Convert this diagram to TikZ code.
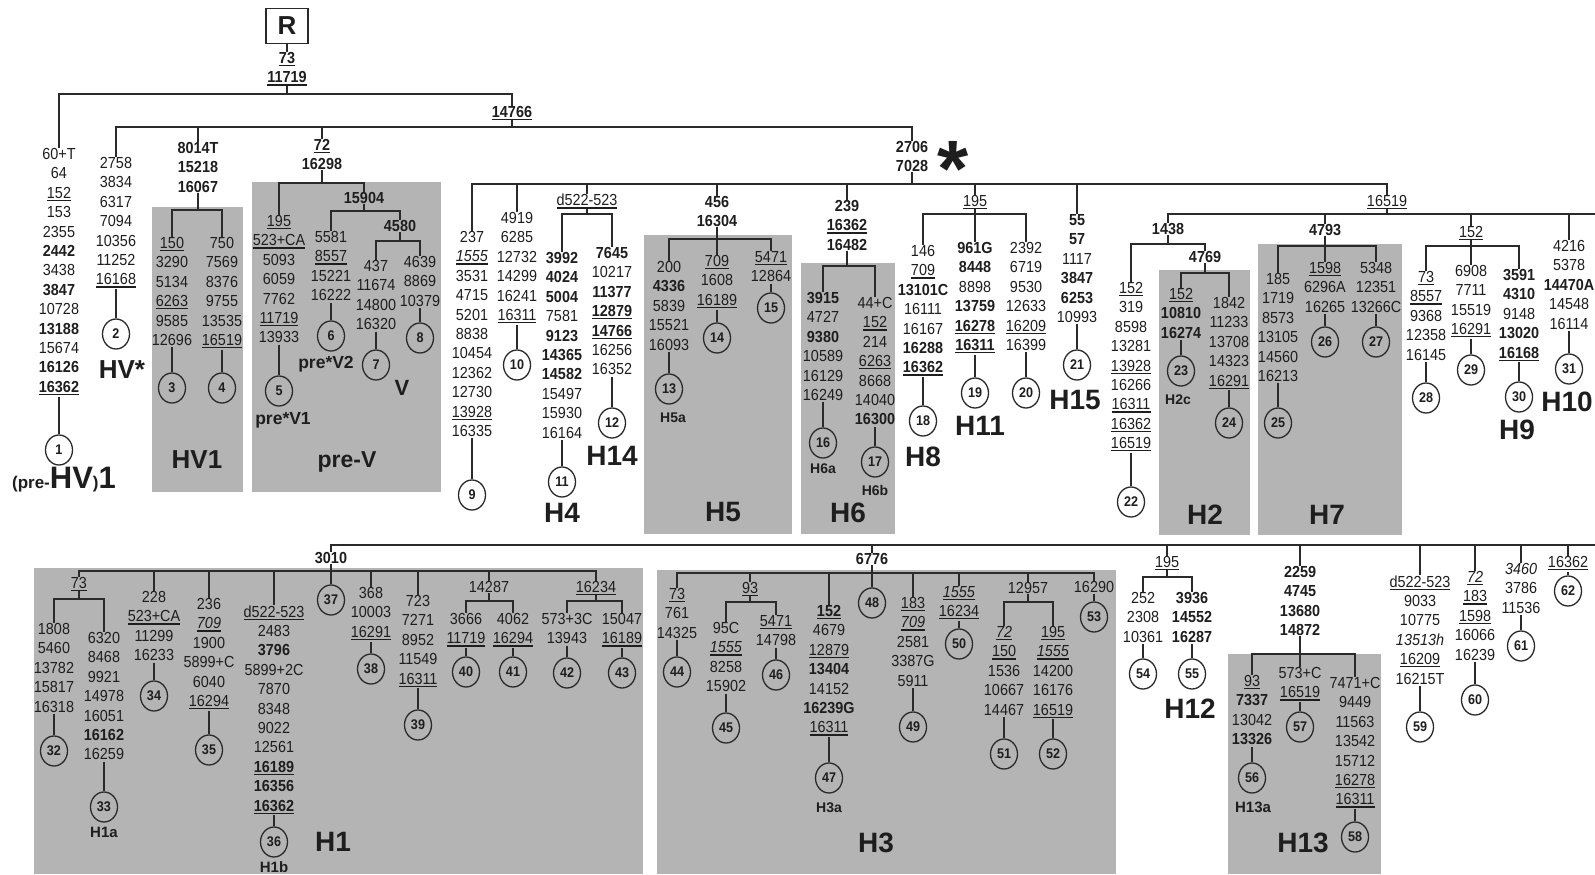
\documentclass[tikz,border=0pt]{standalone}
\usepackage{fontspec}
\setmainfont{Liberation Sans}[FakeStretch=0.9]
\newfontfamily\hfont{Liberation Sans}
\usetikzlibrary{shapes.geometric}
\definecolor{lc}{HTML}{2A2A2A}
\definecolor{tc}{HTML}{1E1E1E}
\definecolor{gbox}{HTML}{B4B4B4}
\newsavebox\ulsb
\newcommand\ulx[1]{\sbox\ulsb{#1}\rlap{\rule[-2.6bp]{\wd\ulsb}{1.1bp}}\usebox\ulsb}
\tikzset{
 num/.style={font=\fontsize{16bp}{19.4bp}\selectfont, text=tc, align=center, inner sep=0pt, anchor=north, yshift=5.8bp},
 lf/.style={ellipse, draw=lc, line width=1.3bp, minimum width=27bp, minimum height=30bp, inner sep=0pt, text=tc, font=\fontsize{14bp}{14bp}\selectfont\bfseries},
 hl/.style={font=\hfont\bfseries\fontsize{28bp}{28bp}\selectfont, text=tc, inner sep=0pt},
 sl/.style={font=\hfont\bfseries\fontsize{14bp}{14bp}\selectfont, text=tc, inner sep=0pt},
 br/.style={draw=lc, line width=1.7bp},
 gb/.style={fill=gbox, draw=none},
}
\begin{document}
\begin{tikzpicture}[x=1bp,y=-1bp]
\fill[white] (0,0) rectangle (1595,874);
\useasboundingbox (0,0) rectangle (1595,874);
% grey groups
\fill[gb] (152,207) rectangle (243,492);
\fill[gb] (252,182) rectangle (441,492);
\fill[gb] (644,235) rectangle (792,534);
\fill[gb] (801,263) rectangle (895,534);
\fill[gb] (1159,270) rectangle (1250,535);
\fill[gb] (1258,244) rectangle (1402,535);
\fill[gb] (34,568) rectangle (643,874);
\fill[gb] (657,570) rectangle (1116,874);
\fill[gb] (1228,654) rectangle (1381,874);

% root
\node[draw=lc, line width=1.3bp, minimum width=42bp, minimum height=35bp, inner sep=0pt, text=tc, font=\hfont\bfseries\fontsize{26bp}{26bp}\selectfont] (R) at (287,26) {R};
\node[num] (rl) at (287,58) {\textbf{\ulx{73}}\\\textbf{\ulx{11719}}};
\node[num] (l14766) at (512,112) {\textbf{\ulx{14766}}};

% left part
\node[num] (t1) at (59,154) {60+T\\64\\\ulx{152}\\153\\2355\\\textbf{2442}\\3438\\\textbf{3847}\\10728\\\textbf{13188}\\15674\\\textbf{16126}\\\textbf{\ulx{16362}}};
\node[num] (t2) at (116,163) {2758\\3834\\6317\\7094\\10356\\11252\\\ulx{16168}};
\node[num] (l8014) at (198,148) {\textbf{8014T}\\\textbf{15218}\\\textbf{16067}};
\node[num] (t3) at (172,243) {\ulx{150}\\3290\\5134\\\ulx{6263}\\9585\\12696};
\node[num] (t4) at (222,243) {750\\7569\\8376\\9755\\13535\\\ulx{16519}};
\node[num] (l72) at (322,145) {\textbf{\ulx{72}}\\\textbf{16298}};
\node[num] (t5) at (279,221) {\ulx{195}\\\ulx{523+CA}\\5093\\6059\\7762\\\ulx{11719}\\13933};
\node[num] (l15904) at (364,198) {\textbf{15904}};
\node[num] (t6) at (331,237) {5581\\\ulx{8557}\\15221\\16222};
\node[num] (l4580) at (400,226) {\textbf{4580}};
\node[num] (t7) at (376,266) {437\\11674\\14800\\16320};
\node[num] (t8) at (420,262) {4639\\8869\\10379};

\node[lf] (c1) at (59,450) {1};
\node[lf] (c2) at (116,334) {2};
\node[lf] (c3) at (172,388) {3};
\node[lf] (c4) at (222,388) {4};
\node[lf] (c5) at (279,391) {5};
\node[lf] (c6) at (331,336) {6};
\node[lf] (c7) at (376,365) {7};
\node[lf] (c8) at (420,338) {8};

\node[hl, font=\hfont\bfseries\fontsize{31bp}{31bp}\selectfont] (lpre) at (64,480) {{\fontsize{17bp}{17bp}\selectfont (pre-}HV{\fontsize{17bp}{17bp}\selectfont )}1};
\node[hl, font=\hfont\bfseries\fontsize{26bp}{26bp}\selectfont] (lhvs) at (122,370) {HV*};
\node[hl, font=\hfont\bfseries\fontsize{26bp}{26bp}\selectfont] (lhv1) at (197,460) {HV1};
\node[hl, font=\hfont\bfseries\fontsize{23bp}{23bp}\selectfont] (lprev) at (347,462) {pre-V};
\node[hl, font=\hfont\bfseries\fontsize{22bp}{22bp}\selectfont] (lv) at (402,388) {V};
\node[sl, font=\hfont\bfseries\fontsize{17.5bp}{17.5bp}\selectfont] (lpv1) at (283,420) {pre*V1};
\node[sl, font=\hfont\bfseries\fontsize{17.5bp}{17.5bp}\selectfont] (lpv2) at (326,364) {pre*V2};

% 2706 / 7028 branch
\node[num] (l2706) at (912,147) {\textbf{2706}\\\textbf{7028}};
\node[anchor=base, inner sep=0pt, text=tc, text height=57bp, text depth=-20bp, font=\hfont\bfseries\fontsize{80bp}{80bp}\selectfont] (ast) at (953,196) {*};

\node[num] (t9) at (472,237) {237\\\ulx{\textit{1555}}\\3531\\4715\\5201\\8838\\10454\\12362\\12730\\\ulx{13928}\\16335};
\node[num] (t10) at (517,218) {4919\\6285\\12732\\14299\\16241\\\ulx{16311}};
\node[num] (ld522) at (587,200) {\ulx{d522-523}};
\node[num] (t11) at (562,258) {\textbf{3992}\\\textbf{4024}\\\textbf{5004}\\7581\\\textbf{9123}\\\textbf{14365}\\\textbf{14582}\\15497\\15930\\16164};
\node[num] (t12) at (612,253) {\textbf{7645}\\10217\\\textbf{11377}\\\textbf{\ulx{12879}}\\\textbf{\ulx{14766}}\\16256\\16352};
\node[num] (l456) at (717,202) {\textbf{456}\\\textbf{16304}};
\node[num] (t13) at (669,267) {200\\\textbf{4336}\\5839\\15521\\16093};
\node[num] (t14) at (717,261) {\ulx{709}\\1608\\\ulx{16189}};
\node[num] (t15) at (771,257) {\ulx{5471}\\12864};
\node[num] (l239) at (847,206) {\textbf{239}\\\textbf{\ulx{16362}}\\\textbf{16482}};
\node[num] (t16) at (823,298) {\textbf{3915}\\4727\\\textbf{9380}\\10589\\16129\\16249};
\node[num] (t17) at (875,303) {44+C\\\ulx{152}\\214\\\ulx{6263}\\8668\\14040\\\textbf{16300}};
\node[num] (l195) at (975,201) {\ulx{195}};
\node[num] (t18) at (923,251) {146\\\ulx{709}\\\textbf{13101C}\\16111\\16167\\\textbf{16288}\\\textbf{\ulx{16362}}};
\node[num] (t19) at (975,248) {\textbf{961G}\\\textbf{8448}\\8898\\\textbf{13759}\\\textbf{\ulx{16278}}\\\textbf{\ulx{16311}}};
\node[num] (t20) at (1026,248) {2392\\6719\\9530\\12633\\\ulx{16209}\\16399};
\node[num] (t21) at (1077,220) {\textbf{55}\\\textbf{57}\\1117\\\textbf{3847}\\\textbf{6253}\\10993};
\node[num] (l16519) at (1387,201) {\ulx{16519}};
\node[num] (l1438) at (1168,229) {\textbf{1438}};
\node[num] (t22) at (1131,288) {\ulx{152}\\319\\8598\\13281\\\ulx{13928}\\16266\\\ulx{16311}\\\ulx{16362}\\\ulx{16519}};
\node[num] (l4769) at (1205,257) {\textbf{4769}};
\node[num] (t23) at (1181,294) {\ulx{152}\\\textbf{10810}\\\textbf{16274}};
\node[num] (t24) at (1229,303) {1842\\11233\\13708\\14323\\\ulx{16291}};
\node[num] (l4793) at (1325,230) {\textbf{4793}};
\node[num] (t25) at (1278,279) {185\\1719\\8573\\13105\\14560\\16213};
\node[num] (t26) at (1325,268) {\ulx{1598}\\6296A\\16265};
\node[num] (t27) at (1376,268) {5348\\12351\\13266C};
\node[num] (l152) at (1471,232) {\ulx{152}};
\node[num] (t28) at (1426,277) {\ulx{73}\\\ulx{8557}\\9368\\12358\\16145};
\node[num] (t29) at (1471,271) {6908\\7711\\15519\\\ulx{16291}};
\node[num] (t30) at (1519,275) {\textbf{3591}\\\textbf{4310}\\9148\\\textbf{13020}\\\textbf{\ulx{16168}}};
\node[num] (t31) at (1569,246) {4216\\5378\\\textbf{14470A}\\14548\\16114};

\node[lf] (c9) at (472,495) {9};
\node[lf] (c10) at (517,365) {10};
\node[lf] (c11) at (562,482) {11};
\node[lf] (c12) at (612,423) {12};
\node[lf] (c13) at (669,389) {13};
\node[lf] (c14) at (717,338) {14};
\node[lf] (c15) at (771,308) {15};
\node[lf] (c16) at (823,443) {16};
\node[lf] (c17) at (875,462) {17};
\node[lf] (c18) at (923,421) {18};
\node[lf] (c19) at (975,393) {19};
\node[lf] (c20) at (1026,393) {20};
\node[lf] (c21) at (1077,365) {21};
\node[lf] (c22) at (1131,502) {22};
\node[lf] (c23) at (1181,371) {23};
\node[lf] (c24) at (1229,423) {24};
\node[lf] (c25) at (1278,423) {25};
\node[lf] (c26) at (1325,342) {26};
\node[lf] (c27) at (1376,342) {27};
\node[lf] (c28) at (1426,398) {28};
\node[lf] (c29) at (1471,370) {29};
\node[lf] (c30) at (1519,397) {30};
\node[lf] (c31) at (1569,369) {31};

\node[hl] (lh4) at (562,513) {H4};
\node[hl] (lh14) at (612,456) {H14};
\node[hl] (lh5) at (723,512) {H5};
\node[hl] (lh6) at (848,513) {H6};
\node[hl] (lh8) at (923,457) {H8};
\node[hl] (lh11) at (980,426) {H11};
\node[hl] (lh15) at (1075,400) {H15};
\node[hl] (lh2) at (1205,515) {H2};
\node[hl] (lh7) at (1327,515) {H7};
\node[hl] (lh9) at (1517,430) {H9};
\node[hl] (lh10) at (1567,402) {H10};
\node[sl] (lh5a) at (673,418) {H5a};
\node[sl] (lh6a) at (823,469) {H6a};
\node[sl] (lh6b) at (875,490) {H6b};
\node[sl] (lh2c) at (1178,400) {H2c};

% lower part
\node[num] (l3010) at (331,558) {\textbf{3010}};
\node[num] (l73b) at (79,583) {\ulx{73}};
\node[num] (t32) at (54,629) {1808\\5460\\13782\\15817\\16318};
\node[num] (t33) at (104,638) {6320\\8468\\9921\\14978\\16051\\\textbf{16162}\\16259};
\node[num] (t34) at (154,597) {228\\\ulx{523+CA}\\11299\\16233};
\node[num] (t35) at (209,604) {236\\\ulx{\textit{709}}\\1900\\5899+C\\6040\\\ulx{16294}};
\node[num] (t36) at (274,611) {\ulx{d522-523}\\2483\\\textbf{3796}\\5899+2C\\7870\\8348\\9022\\12561\\\textbf{\ulx{16189}}\\\textbf{16356}\\\textbf{\ulx{16362}}};
\node[num] (t38) at (371,593) {368\\10003\\\ulx{16291}};
\node[num] (t39) at (418,601) {723\\7271\\8952\\11549\\\ulx{16311}};
\node[num] (l14287) at (489,587) {14287};
\node[num] (t40) at (466,619) {3666\\\ulx{11719}};
\node[num] (t41) at (513,619) {4062\\\ulx{16294}};
\node[num] (l16234) at (596,587) {\ulx{16234}};
\node[num] (t42) at (567,619) {573+3C\\13943};
\node[num] (t43) at (622,619) {15047\\\ulx{16189}};

\node[num] (l6776) at (872,559) {\textbf{6776}};
\node[num] (t44) at (677,594) {\ulx{73}\\761\\14325};
\node[num] (l93) at (750,588) {\ulx{93}};
\node[num] (t45) at (726,628) {95C\\\ulx{\textit{1555}}\\8258\\15902};
\node[num] (t46) at (776,621) {\ulx{5471}\\14798};
\node[num] (t47) at (829,611) {\textbf{\ulx{152}}\\4679\\\ulx{12879}\\\textbf{13404}\\14152\\\textbf{16239G}\\\ulx{16311}};
\node[num] (t49) at (913,603) {\ulx{183}\\\ulx{\textit{709}}\\2581\\3387G\\5911};
\node[num] (t50) at (959,592) {\ulx{\textit{1555}}\\\ulx{16234}};
\node[num] (l12957) at (1028,588) {12957};
\node[num] (t51) at (1004,632) {\ulx{\textit{72}}\\\ulx{150}\\1536\\10667\\14467};
\node[num] (t52) at (1053,632) {\ulx{195}\\\ulx{\textit{1555}}\\14200\\16176\\\ulx{16519}};
\node[num] (t53) at (1094,587) {16290};

\node[num] (l195b) at (1167,562) {\ulx{195}};
\node[num] (t54) at (1143,598) {252\\2308\\10361};
\node[num] (t55) at (1192,598) {\textbf{3936}\\\textbf{14552}\\\textbf{16287}};
\node[num] (t2259) at (1300,572) {\textbf{2259}\\\textbf{4745}\\\textbf{13680}\\\textbf{14872}};
\node[num] (t56) at (1252,681) {\ulx{93}\\\textbf{7337}\\13042\\\textbf{13326}};
\node[num] (t57) at (1300,673) {573+C\\\ulx{16519}};
\node[num] (t58) at (1355,683) {7471+C\\9449\\11563\\13542\\15712\\\ulx{16278}\\\ulx{16311}};
\node[num] (t59) at (1420,581) {\ulx{d522-523}\\9033\\10775\\\textit{13513h}\\\ulx{16209}\\16215T};
\node[num] (t60) at (1475,577) {\ulx{\textit{72}}\\\ulx{183}\\\ulx{1598}\\16066\\16239};
\node[num] (t61) at (1521,569) {\textit{3460}\\3786\\11536};
\node[num] (t62) at (1568,562) {\ulx{16362}};

\node[lf] (c32) at (54,751) {32};
\node[lf] (c33) at (104,807) {33};
\node[lf] (c34) at (154,696) {34};
\node[lf] (c35) at (209,750) {35};
\node[lf] (c36) at (274,842) {36};
\node[lf] (c37) at (331,600) {37};
\node[lf] (c38) at (371,669) {38};
\node[lf] (c39) at (418,725) {39};
\node[lf] (c40) at (466,672) {40};
\node[lf] (c41) at (513,672) {41};
\node[lf] (c42) at (567,673) {42};
\node[lf] (c43) at (622,673) {43};
\node[lf] (c44) at (677,672) {44};
\node[lf] (c45) at (726,728) {45};
\node[lf] (c46) at (776,675) {46};
\node[lf] (c47) at (829,778) {47};
\node[lf] (c48) at (872,603) {48};
\node[lf] (c49) at (913,727) {49};
\node[lf] (c50) at (959,644) {50};
\node[lf] (c51) at (1004,754) {51};
\node[lf] (c52) at (1053,754) {52};
\node[lf] (c53) at (1094,617) {53};
\node[lf] (c54) at (1143,674) {54};
\node[lf] (c55) at (1192,674) {55};
\node[lf] (c56) at (1252,778) {56};
\node[lf] (c57) at (1300,727) {57};
\node[lf] (c58) at (1355,837) {58};
\node[lf] (c59) at (1420,727) {59};
\node[lf] (c60) at (1475,700) {60};
\node[lf] (c61) at (1521,646) {61};
\node[lf] (c62) at (1568,591) {62};

\node[hl] (lh1) at (333,842) {H1};
\node[hl] (lh3) at (876,843) {H3};
\node[hl] (lh12) at (1190,709) {H12};
\node[hl] (lh13) at (1303,843) {H13};
\node[sl, font=\hfont\bfseries\fontsize{15bp}{15bp}\selectfont] (lh1a) at (104,832) {H1a};
\node[sl, font=\hfont\bfseries\fontsize{15bp}{15bp}\selectfont] (lh1b) at (274,867) {H1b};
\node[sl] (lh3a) at (829,808) {H3a};
\node[sl, font=\hfont\bfseries\fontsize{15bp}{15bp}\selectfont] (lh13a) at (1253,807) {H13a};

% ---------- connectors ----------
\foreach \i in {1,...,36,38,39,40,41,42,43,44,45,46,47,49,50,51,52,53,54,55,56,57,58,59,60,61,62}
  \draw[br, shorten <=1.5bp] (t\i.south) -- (c\i.north);

\coordinate (b0) at (287,94);
\coordinate (b1) at (512,127);
\coordinate (bh) at (198,210);
\coordinate (bp) at (322,183);
\coordinate (bq) at (364,211);
\coordinate (bv) at (400,241);
\coordinate (b2) at (912,184);
\coordinate (bd) at (587,214);
\coordinate (b456) at (717,239);
\coordinate (b239) at (847,266);
\coordinate (b195) at (975,214);
\coordinate (b3) at (1387,214);
\coordinate (eR) at (1595,214);
\coordinate (b1438) at (1168,244);
\coordinate (b4769) at (1205,273);
\coordinate (b4793) at (1325,246);
\coordinate (b152) at (1471,246);
\coordinate (eL) at (1595,545);
\coordinate (b3010) at (331,571);
\coordinate (b73) at (79,599);
\coordinate (b142) at (489,601);
\coordinate (b162) at (596,601);
\coordinate (b6776) at (872,573);
\coordinate (b93) at (750,602);
\coordinate (b129) at (1028,602);
\coordinate (b195b) at (1167,577);
\coordinate (b2259) at (1300,654);

\draw[br] (R.south) -- (rl.north);
\draw[br] (rl.south) -- (b0);
\draw[br] (t1.north) |- (b0) -| (l14766.north);
\draw[br] (l14766.south) -- (b1);
\draw[br] (t2.north) |- (b1) -| (l2706.north);
\draw[br] (l8014.north) -- (l8014.north |- b1);
\draw[br] (l72.north) -- (l72.north |- b1);
\draw[br] (l8014.south) -- (bh);
\draw[br] (t3.north) |- (bh) -| (t4.north);
\draw[br] (l72.south) -- (bp);
\draw[br] (t5.north) |- (bp) -| (l15904.north);
\draw[br] (l15904.south) -- (bq);
\draw[br] (t6.north) |- (bq) -| (l4580.north);
\draw[br] (l4580.south) -- (bv);
\draw[br] (t7.north) |- (bv) -| (t8.north);

\draw[br] (l2706.south) -- (b2);
\draw[br] (t9.north) |- (b2) -| (l16519.north);
\foreach \n in {t10,ld522,l456,l239,l195,t21}
  \draw[br] (\n.north) -- (\n.north |- b2);
\draw[br] (ld522.south) -- (bd);
\draw[br] (t11.north) |- (bd) -| (t12.north);
\draw[br] (l456.south) -- (b456);
\draw[br] (t13.north) |- (b456) -| (t15.north);
\draw[br] (b456) -- (t14.north);
\draw[br] (l239.south) -- (b239);
\draw[br] (t16.north) |- (b239) -| (t17.north);
\draw[br] (l195.south) -- (b195);
\draw[br] (t18.north) |- (b195) -| (t20.north);
\draw[br] (b195) -- (t19.north);

\draw[br] (l16519.south) -- (b3);
\draw[br] (l1438.north) |- (b3) -- (eR);
\foreach \n in {l4793,l152,t31}
  \draw[br] (\n.north) -- (\n.north |- b3);
\draw[br] (l1438.south) -- (b1438);
\draw[br] (t22.north) |- (b1438) -| (l4769.north);
\draw[br] (l4769.south) -- (b4769);
\draw[br] (t23.north) |- (b4769) -| (t24.north);
\draw[br] (l4793.south) -- (b4793);
\draw[br] (t25.north) |- (b4793) -| (t27.north);
\draw[br] (b4793) -- (t26.north);
\draw[br] (l152.south) -- (b152);
\draw[br] (t28.north) |- (b152) -| (t30.north);
\draw[br] (b152) -- (t29.north);

\draw[br] (l3010.north) |- (eL);
\foreach \n in {l6776,l195b,t2259,t59,t60,t61,t62}
  \draw[br] (\n.north) -- (\n.north |- eL);
\draw[br] (l3010.south) -- (c37.north);
\draw[br] (l73b.north) |- (b3010) -| (l16234.north);
\foreach \n in {t34,t35,t36,t38,t39,l14287}
  \draw[br] (\n.north) -- (\n.north |- b3010);
\draw[br] (l73b.south) -- (b73);
\draw[br] (t32.north) |- (b73) -| (t33.north);
\draw[br] (l14287.south) -- (b142);
\draw[br] (t40.north) |- (b142) -| (t41.north);
\draw[br] (l16234.south) -- (b162);
\draw[br] (t42.north) |- (b162) -| (t43.north);

\draw[br] (l6776.south) -- (c48.north);
\draw[br] (t44.north) |- (b6776) -| (t53.north);
\foreach \n in {l93,t47,t49,t50,l12957}
  \draw[br] (\n.north) -- (\n.north |- b6776);
\draw[br] (l93.south) -- (b93);
\draw[br] (t45.north) |- (b93) -| (t46.north);
\draw[br] (l12957.south) -- (b129);
\draw[br] (t51.north) |- (b129) -| (t52.north);

\draw[br] (l195b.south) -- (b195b);
\draw[br] (t54.north) |- (b195b) -| (t55.north);
\draw[br] (t2259.south) -- (b2259);
\draw[br] (t56.north) |- (b2259) -| (t58.north);
\draw[br] (b2259) -- (t57.north);
\end{tikzpicture}
\end{document}
